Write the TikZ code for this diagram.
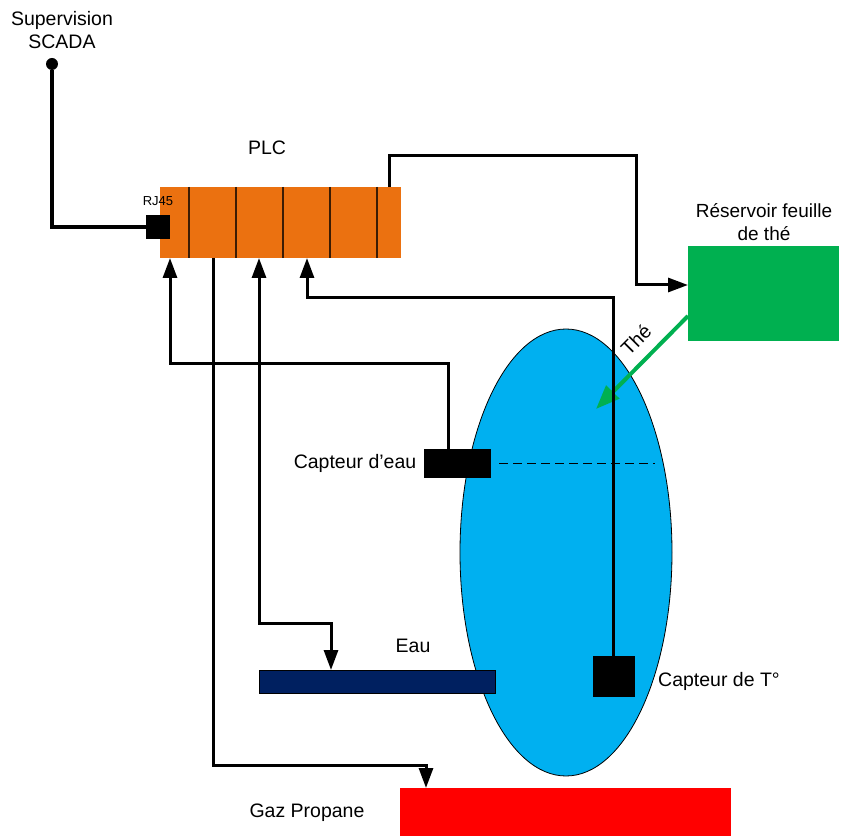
\documentclass[tikz,border=0pt]{standalone}
\usepackage{fontspec}
\setmainfont{Liberation Sans}
\usepackage{tikz}
\usetikzlibrary{positioning,shapes.geometric,arrows.meta}
\definecolor{plcorange}{HTML}{EB7110}
\definecolor{teagreen}{HTML}{00B050}
\definecolor{tankblue}{HTML}{00B0F0}
\definecolor{waternavy}{HTML}{002060}
\tikzset{
  label/.style={inner sep=0, font=\fontsize{19.5}{23}\selectfont, text centered},
  block/.style={inner sep=0, draw=none},
  wire/.style={line width=3, -{Triangle[length=20pt,width=14pt]}},
}

\begin{document}
\begin{tikzpicture}[x=1pt, y=-1pt]
\useasboundingbox (0,0) rectangle (847,837);
% nodes %

\node[ellipse, draw=black, line width=0.8, fill=tankblue, inner sep=0, minimum width=212, minimum height=447] (tank) at (566,552.5) {};
\node[block, fill=plcorange, minimum width=241, minimum height=71] (plc) at (280.5,222.5) {};
\node[block, fill=teagreen, minimum width=151, minimum height=95] (leaf) at (763.5,293.5) {};
\node[block, fill=red, minimum width=331, minimum height=48] (gas) at (565.5,812) {};
\node[block, fill=waternavy, draw=black, line width=0.6, minimum width=236, minimum height=23.5] (water) at (377.5,682) {};
\node[block, fill=black, minimum width=24, minimum height=24] (rj) at (158,227) {};
\node[block, fill=black, minimum width=67, minimum height=29] (level) at (457.5,463.5) {};
\node[block, fill=black, minimum width=42, minimum height=41] (temp) at (614,676.5) {};
\node[circle, fill=black, inner sep=0, minimum size=12] (scada) at (52,64) {};

\node[label, align=center] (scadatxt) at (62,30) {Supervision\\SCADA};
\node[label] (plctxt) at (267,148) {PLC};
\node[label, font=\fontsize{13}{15}\selectfont] (rjtxt) at (158,201) {RJ45};
\node[label, font=\fontsize{19}{23}\selectfont, align=center] (leaftxt) at (764,222) {Réservoir feuille\\de thé};
\node[label, rotate=45] (teatxt) at (636,340) {Thé};
\node[label] (leveltxt) at (355,463) {Capteur d’eau};
\node[label] (temptxt) at (719,681) {Capteur de T°};
\node[label] (watertxt) at (413,646) {Eau};
\node[label] (gastxt) at (307,813) {Gaz Propane};

\coordinate (plcout) at (389,187);
\coordinate (leafin) at (688,285);
\coordinate (leafout) at (688,316);
\coordinate (teaend) at (596,409);
\coordinate (levelout) at (448,449);
\coordinate (levelin) at (170,258);
\coordinate (tempout) at (613,656);
\coordinate (tempin) at (307,258);
\coordinate (waterout) at (259,258);
\coordinate (waterin) at (331,670);
\coordinate (gasout) at (213,258);
\coordinate (gasin) at (426,788);
\coordinate (dashl) at (499,463);
\coordinate (dashr) at (655,463);

% edges %
\foreach \x in {189,236,283,330,377}
  \draw[line width=1.3, black!75!plcorange] (\x,187) -- (\x,258);
\draw[line width=1, dash pattern=on 9pt off 5pt] (dashl) -- (dashr);
\draw[line width=4, teagreen, -{Triangle[length=24pt,width=18pt]}] (leafout) -- (teaend);
\draw[line width=4] (scada) |- (rj);
\draw[wire] (plcout) -- ++(0,-31) -- ++(247,0) |- (leafin);
\draw[wire] (levelout) -- ++(0,-85) -| (levelin);
\draw[wire] (tempout) -- ++(0,-358) -| (tempin);
\draw[wire, {Triangle[length=20pt,width=14pt]}-{Triangle[length=20pt,width=14pt]}] (waterout) -- ++(0,365) -| (waterin);
\draw[wire] (gasout) -- ++(0,507) -| (gasin);

\end{tikzpicture}
\end{document}
